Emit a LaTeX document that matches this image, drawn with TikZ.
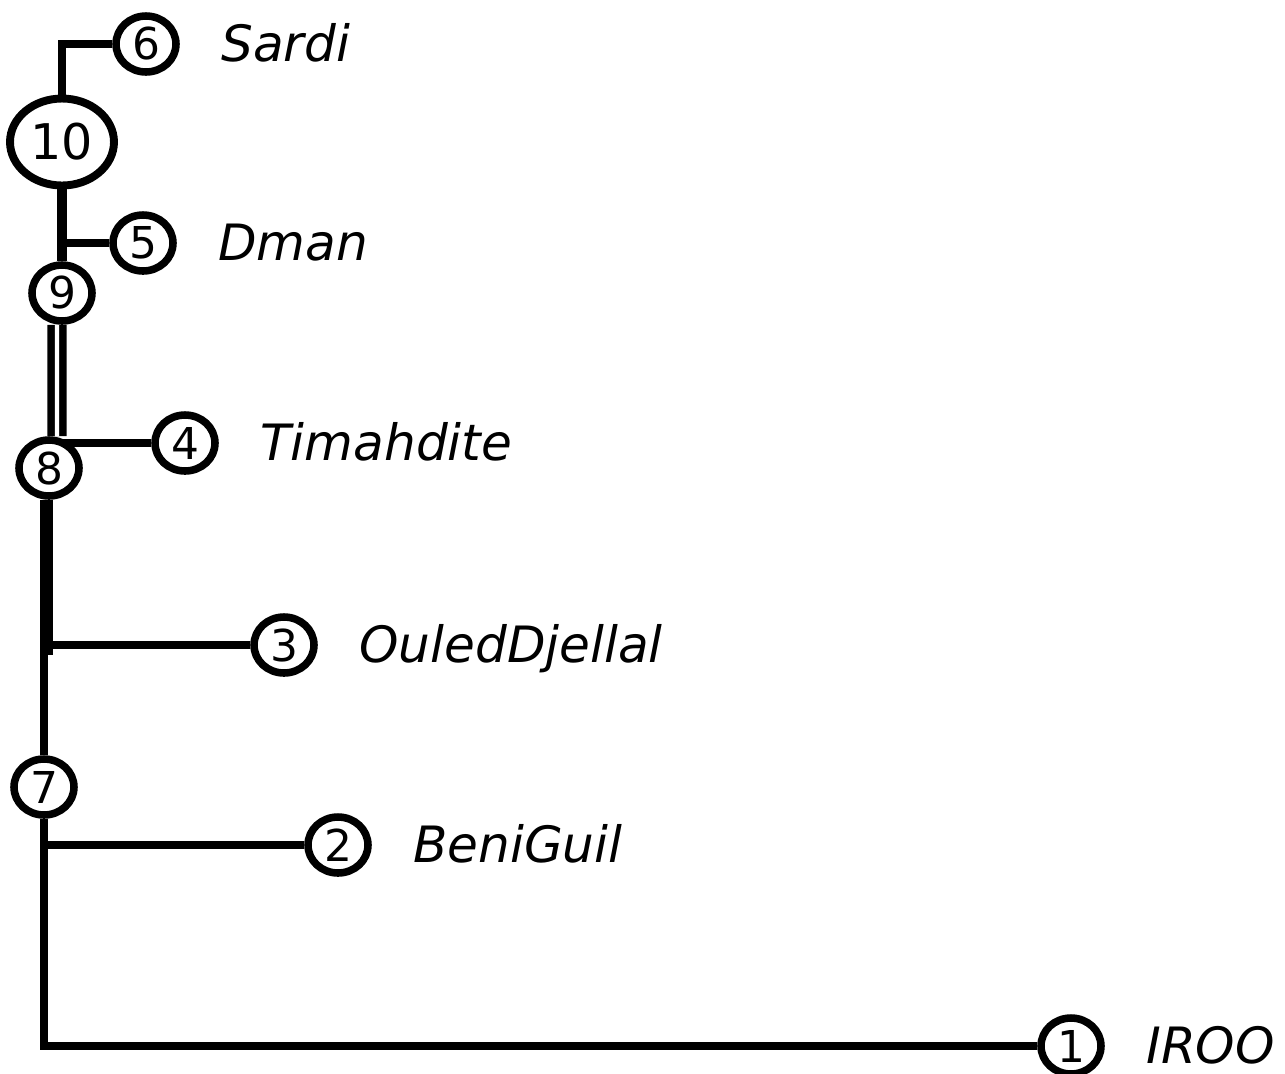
\documentclass[tikz,border=0pt]{standalone}
\usepackage{fontspec}
\setmainfont{DejaVu Sans}
\usetikzlibrary{positioning,shapes.geometric}

\tikzset{
  taxon/.style={ellipse, draw, line width=4.3pt, fill=white, inner sep=0pt,
    minimum width=1.2cm, minimum height=1.12cm, font=\fontsize{25}{25}\selectfont},
  root/.style={taxon, line width=4.5pt, minimum width=2.08cm, minimum height=1.74cm,
    font=\fontsize{28}{28}\selectfont},
  branch/.style={line width=4.6pt},
  heavy/.style={line width=5.7pt},
  heavier/.style={line width=7.4pt},
  twin/.style={double, double distance=2.3pt, line width=4.3pt},
  leaflabel/.style={font=\fontsize{28.5}{30}\selectfont\itshape, inner sep=0pt,
    text height=20pt, text depth=0pt}
}

\begin{document}
\begin{tikzpicture}[x=0.02cm, y=-0.02cm]
\useasboundingbox (0,0) rectangle (1285,1073);

% leaves
\foreach \n/\x/\y in {1/1071/1046, 2/338/845, 3/284/645, 4/185/443, 5/143/243, 6/146/44} {
    \node[taxon] (n\n) at (\x,\y) {\n};
}
% inner nodes
\node[taxon] (n7) at (44,787) {7};
\node[taxon] (n8) at (49,468) {8};
\node[taxon] (n9) at (62,293) {9};
\node[root] (n10) at (62,142) {10};

% names
\foreach \n/\t in {1/IROO, 2/BeniGuil, 3/OuledDjellal, 4/Timahdite, 5/Dman, 6/Sardi} {
    \node[leaflabel, right=1.5cm of n\n.center] (l\n) {\t};
}

% branches
\draw[branch] (n10) |- (n6);
\draw[heavy] (n10) -- (n9);
\coordinate (j5) at (n10 |- n5);
\draw[branch] (j5) -- (n5);
\draw[twin] ([xshift=-0.1cm]n9.south) -- ([xshift=0.16cm]n8.north);
\coordinate (j4) at ([xshift=0.26cm]n8.north |- n4);
\draw[branch] (j4) -- (n4);
\coordinate (j3) at (n7 |- n3);
\draw[heavier] ([xshift=-0.05cm]n8.south) -- ++(0,155);
\draw[branch] (j3) -- (n3);
\draw[branch] (j3) -- (n7);
\draw[branch] (n7) |- (n2);
\draw[branch] (n7) |- (n1);
\end{tikzpicture}
\end{document}
